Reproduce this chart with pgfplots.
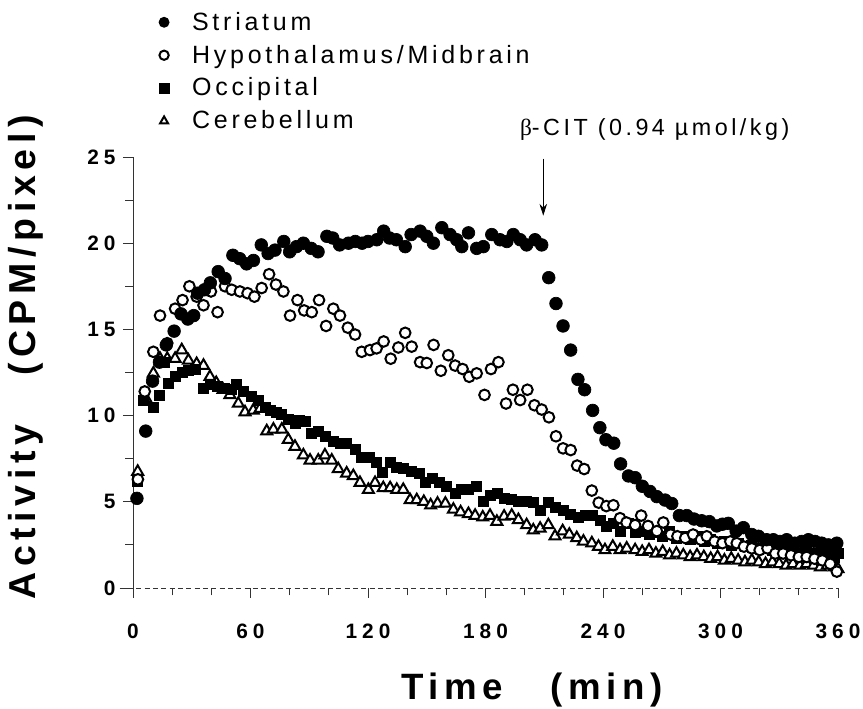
\documentclass[border=0pt]{standalone}
\usepackage{fontspec}
\setmainfont{Liberation Sans}
\newfontfamily\spc[LetterSpace=15]{Liberation Sans}
\newfontfamily\lab[LetterSpace=15]{Liberation Sans}
\newfontfamily\tck[LetterSpace=24]{Liberation Sans}
\usepackage{pgfplots}
\pgfplotsset{compat=1.18}
\usetikzlibrary{arrows.meta}

% Striatum
\pgfplotstableread{
t v
2 5.2
6.5 9.1
10 12.0
13.5 13.1
17 14.1
21 14.9
24.5 15.9
28 15.6
31 15.8
33 17.1
36.5 17.3
39.5 17.7
43.5 18.35
47 17.95
51 19.3
54.5 19.1
58 18.8
61.5 19.0
65.5 19.9
69 19.4
72.5 19.6
77 20.1
80 19.5
83.5 19.8
87 20.0
91 19.7
94.5 19.5
99 20.4
102 20.3
105.5 19.9
110 20.0
113.5 20.1
117 20.0
120 20.1
124.5 20.2
128 20.7
131 20.3
134.5 20.2
139 19.8
142 20.5
146.6 20.7
150 20.4
153.4 20.0
157.7 20.9
161.9 20.5
165.3 20.2
167.9 19.8
171.3 20.6
175.5 19.7
178.9 19.8
183.2 20.5
187.4 20.2
190.9 20.1
194.2 20.5
197.7 20.2
201 19.9
205.3 20.2
208.7 19.9
212.3 18.0
216 16.5
219.6 15.2
223.5 13.8
227.2 12.1
230.6 11.5
234.7 10.3
238.4 9.3
241.5 8.6
245.5 8.4
249 7.2
253 6.5
256.4 6.4
260.1 5.9
264 5.6
267.5 5.3
271.7 5.1
275.1 4.9
279 4.2
282.8 4.2
286.5 4.0
290.4 3.9
294.3 3.85
298.1 3.6
301 3.7
304 3.75
308 3.3
311.7 3.5
316 3.1
319.4 3.0
323.6 2.8
327 2.8
330.4 2.7
333.8 2.8
338 2.6
341.5 2.7
344.9 2.8
348.3 2.7
351.7 2.6
355.1 2.5
358 2.3
359.4 2.6
}\striatum

% Hypothalamus/Midbrain
\pgfplotstableread{
t v
2.5 6.3
6 11.4
10.4 13.7
13.8 15.8
17.5 14.2
21.5 16.2
25.3 16.7
28.8 17.5
32.5 16.9
36 16.4
39.8 17.2
43.2 16.0
47 17.5
50.4 17.3
54.6 17.2
58.5 17.1
62 16.9
65.7 17.4
69.5 18.2
73 17.6
76.8 17.2
80.2 15.8
84 16.7
87.4 16.1
91.3 16.0
95 16.7
98.6 15.2
102.3 16.2
105.7 15.8
109.7 15.1
113.4 14.7
116.8 13.7
121 13.8
124.4 13.9
128 14.3
131.6 13.3
135.5 13.95
139 14.8
142.3 14.0
146.6 13.1
150 13.05
153.5 14.1
157.2 12.6
161 13.5
164.5 12.9
168.3 12.7
171.7 12.25
175.5 12.45
179.5 11.2
182.8 12.7
186.6 13.1
190.5 10.7
194 11.5
197.7 10.9
201.4 11.5
205 10.6
208.7 10.35
212.4 9.9
216 8.8
219.6 8.1
223.5 8.0
226.8 7.1
230.4 6.9
234.3 5.65
237.8 4.95
241.7 4.75
245.3 4.8
248.7 4.05
252 3.8
256.4 3.65
259.5 4.2
263 3.6
267.5 3.3
270.8 3.8
274.6 3.1
278 3.0
282 2.9
286 3.1
290 2.8
293 3.0
297 2.7
301 2.6
305 2.7
308.3 2.6
312 2.4
316 2.3
320 2.2
324 2.3
328 2.0
332 2.0
336 1.9
340 1.8
344 1.8
348 1.7
352 1.6
356 1.4
359.4 0.95
}\hypoth

% Occipital
\pgfplotstableread{
t v
2 6.2
5.5 10.9
10.4 10.5
13.5 11.2
16 13.1
18 11.9
21.5 12.3
25 12.5
28.5 12.6
32 12.7
36 11.6
39.5 11.8
43 11.7
46.5 11.6
50 11.5
53 11.8
56.5 11.4
60.5 11.1
64 10.9
67.5 10.5
70 10.3
73 10.2
76 10.1
79.3 9.8
82.7 9.55
85 9.7
87.8 9.65
91.3 9.0
94.6 9.1
98 8.8
102.3 8.5
105.7 8.4
109.1 8.4
113.4 8.05
116.8 7.6
120.7 7.6
124.1 7.3
127.5 6.7
131.3 7.3
134.7 7.0
138 6.95
142.3 6.75
146.3 6.65
149.1 6.1
153.1 6.35
156.5 6.1
160.2 5.9
164.5 5.5
167.9 5.7
171.3 5.7
175.2 5.9
178.9 5.0
182.3 5.4
185.8 5.5
189.5 5.2
193.4 5.15
196.8 5.0
201 5.0
204.4 4.95
207.9 4.5
212.1 4.95
215.5 4.7
219.8 4.5
223.2 4.3
227.4 4.1
230.8 4.2
234.8 4.2
238.5 3.9
241.9 3.55
245.3 3.75
249 3.3
253 3.75
256.4 3.2
260 3.3
263.5 3.1
267 3.2
270.5 3.0
274 3.3
277.5 2.9
281 3.0
284.5 2.8
288 3.0
291.5 2.7
295 2.8
298.5 2.6
302 2.7
305.5 2.5
309 2.6
312.5 2.4
316 2.5
319.5 2.3
323 2.4
326.5 2.2
330 2.3
333.5 2.1
337 2.2
340.5 2.0
344 2.1
347.5 2.0
351 2.0
354.5 1.9
358 1.8
360 2.0
}\occipital

% Cerebellum
\pgfplotstableread{
t v
2.4 6.75
6.5 11.0
10.4 12.45
13.8 13.3
17.5 13.3
21.5 13.3
24.9 13.8
28.3 13.2
32.5 13.0
36 12.9
39.3 12.25
42.5 11.9
46 11.5
49.5 11.2
53.8 10.7
57.2 10.2
61.4 10.3
64.9 10.4
68.3 9.1
71.7 9.2
76 9.2
79.3 8.6
82.7 8.2
87 7.7
90.4 7.4
94.6 7.4
98 7.7
101.5 7.4
104.8 6.9
109.1 6.65
112.5 6.5
115.9 6.1
120.2 5.7
123.6 6.1
127.8 5.8
131.3 5.8
134.7 5.7
138 5.7
141.5 5.1
144.9 5.1
148.5 5.0
152 4.8
155.5 4.9
159.5 4.9
163.6 4.55
167.3 4.4
171.3 4.3
174.7 4.2
178.6 4.1
182.3 4.2
185.8 3.85
189.5 4.15
193.4 4.2
196.8 3.95
201 3.65
204.4 3.35
207.9 3.45
212.1 3.65
215.5 3.0
219.4 3.3
222.8 3.1
226.6 2.9
230 2.7
234.3 2.6
237.7 2.4
241 2.2
245 2.4
248.7 2.2
252.1 2.3
256.4 2.2
260 2.1
263.5 2.2
267 2.0
270.5 2.1
274 1.9
277.5 2.0
281 1.9
284.5 1.8
288 1.9
291.5 1.8
295 1.7
298.5 1.8
302 1.6
305.5 1.7
309 1.6
312.5 1.5
316 1.6
319.5 1.5
323 1.4
326.5 1.5
330 1.4
333.5 1.3
337 1.4
340.5 1.3
344 1.4
347.5 1.3
351 1.2
354.5 1.3
358 1.2
360 1.1
}\cerebellum

\begin{document}
\begin{tikzpicture}
\useasboundingbox (-79.8pt,-72.6pt) rectangle (438pt,352.8pt);
\begin{axis}[
  at={(0,0)}, anchor=south west,
  scale only axis, width=423pt, height=258.6pt,
  xmin=0, xmax=360, ymin=0, ymax=25,
  clip=false,
  axis x line*=bottom, axis y line*=left,
  axis line style={-, line width=0.5pt, black!80},
  x axis line style={shorten <=-8pt, densely dashed},
  xtick={0,60,...,360}, minor xtick={20,40,...,340},
  ytick={0,5,...,25}, minor ytick={2.5,7.5,...,22.5},
  tick align=outside, major tick length=6pt, minor tick length=4.5pt,
  tick style={black!80, line width=0.5pt},
  /pgf/number format/assume math mode=true,
  ticklabel style={font=\tck\bfseries\fontsize{12.5}{14}\selectfont},
  xticklabel style={yshift=-12pt},
  yticklabel style={xshift=-1pt},
  xlabel={Time\hspace{1.3em}(min)},
  ylabel={Activity\hspace{1.3em}(CPM/pixel)},
  xlabel style={font=\lab\bfseries\fontsize{22}{25}\selectfont, at={(axis description cs:0.566,-0.237)}, anchor=center},
  ylabel style={font=\lab\bfseries\fontsize{22.5}{25}\selectfont, at={(axis description cs:-0.152,0.535)}, anchor=center},
  legend style={draw=none, fill=none, at={(axis description cs:0.037,1.345)}, anchor=north west,
    font=\spc\fontsize{15}{17}\selectfont, row sep=3.4pt, column sep=12pt, inner sep=0pt},
  legend cell align=left,
  reverse legend,
  legend image post style={mark size=2.8pt, line width=0.9pt},
]
\addplot[only marks, mark=triangle*, mark size=3.8pt, mark options={draw=black, fill=white, line width=1.2pt}]
  table[x=t, y=v] {\cerebellum};
\addlegendentry{Cerebellum}
\addplot[only marks, mark=square*, mark size=3pt, mark options={draw=black, fill=black}]
  table[x=t, y=v] {\occipital};
\addlegendentry{Occipital}
\addplot[only marks, mark=*, mark size=3.2pt, mark options={draw=black, fill=white, line width=1.2pt}]
  table[x=t, y=v] {\hypoth};
\addlegendentry{Hypothalamus/Midbrain}
\addplot[only marks, mark=*, mark size=3.8pt, mark options={draw=black, fill=black}]
  table[x=t, y=v] {\striatum};
\addlegendentry{Striatum}
\draw[-{Stealth[length=7pt, width=4.5pt]}, line width=0.5pt] (axis cs:209.5,24.9) -- (axis cs:209.5,21.6);
\node[anchor=west, font=\spc\fontsize{14}{16}\selectfont, inner sep=0pt] at (axis cs:197.5,26.6)
  {{\fontspec{Liberation Serif}β}-CIT (0.94 µmol/kg)};
\end{axis}
\end{tikzpicture}
\end{document}
